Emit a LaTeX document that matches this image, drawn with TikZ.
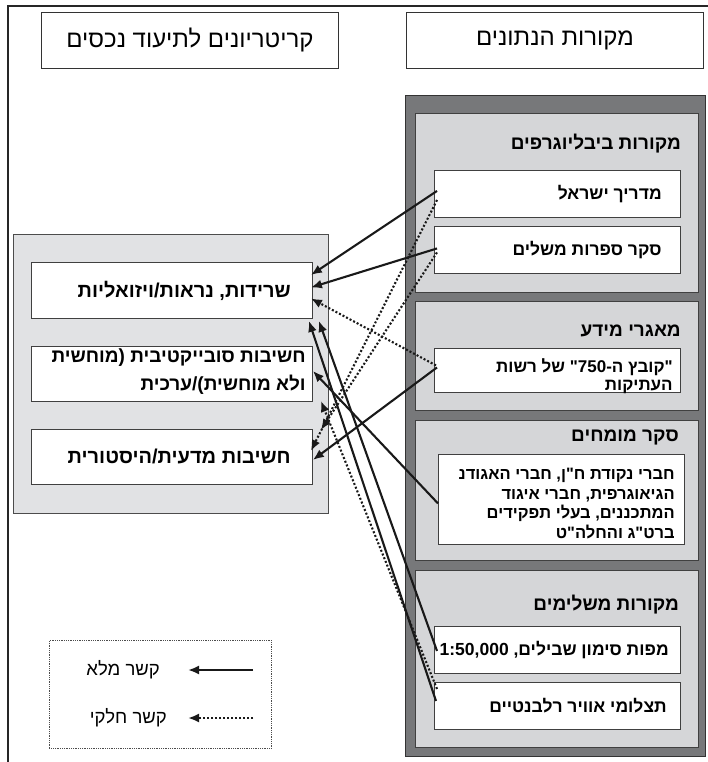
\documentclass[tikz,border=0pt]{standalone}
\usepackage{fontspec}
\setmainfont[Script=Hebrew,Ligatures=TeXOff]{Liberation Sans}
\TeXXeTstate=1
\usetikzlibrary{arrows.meta,positioning,calc}
\newcommand{\heb}[1]{\beginR #1\endR}
\definecolor{framegray}{HTML}{77787A}
\definecolor{secgray}{HTML}{D5D6D8}
\definecolor{critgray}{HTML}{E1E2E4}

\begin{document}
\begin{tikzpicture}[x=1pt,y=-1pt,
  hdr/.style={draw=black!80,line width=0.9pt,minimum width=297pt,minimum height=56pt,anchor=north west,font=\fontsize{24}{28}\selectfont},
  sec/.style={draw=black!75,fill=secgray,line width=1.2pt,minimum width=283pt,anchor=north west},
  src/.style={draw=black!75,fill=white,line width=0.9pt,minimum width=246pt,minimum height=47pt,anchor=north west},
  crit/.style={draw=black!75,fill=white,line width=0.9pt,minimum width=281pt,minimum height=56pt,anchor=north west},
  ttl/.style={anchor=east,inner sep=0pt,font=\bfseries\fontsize{19}{22}\selectfont},
  srctxt/.style={anchor=east,inner sep=0pt,align=right,font=\bfseries\fontsize{17.5}{19}\selectfont},
  crittxt/.style={anchor=east,inner sep=0pt,align=right,font=\bfseries\fontsize{20}{28}\selectfont},
  lgdtxt/.style={anchor=east,inner sep=0pt,font=\fontsize{18.5}{21}\selectfont},
  full/.style={line width=2.1pt,black!90,-{Latex[length=11pt,width=9pt]}},
  part/.style={full,dash pattern=on 2pt off 2pt}]
\useasboundingbox (0,0) rectangle (708,762);

% frame and headers
\draw[line width=1.2pt,black!85] (8,762) -- (8,6) -- (708,6);
\node[hdr] (crithdr) at (41,12) {\heb{קריטריונים לתיעוד נכסים}};
\node[hdr] (srchdr) at (406,12) {\heb{מקורות הנתונים}};

% data sources
\node[draw=black!80,fill=framegray,line width=1.2pt,minimum width=300pt,minimum height=661pt,anchor=north west] (srcframe) at (405,95) {};
\node[sec,minimum height=179pt] (bib) at (415,113) {};
\node[sec,minimum height=109pt] (db) at (415,301) {};
\node[sec,minimum height=140pt] (exp) at (415,420) {};
\node[sec,minimum height=177pt] (supp) at (415,570) {};

\node[ttl] (bibttl) at (681,144) {\heb{מקורות ביבליוגרפים}};
\node[ttl] (dbttl) at (681,331) {\heb{מאגרי מידע}};
\node[ttl] (expttl) at (679,437) {\heb{סקר מומחים}};
\node[ttl] (suppttl) at (679,605) {\heb{מקורות משלימים}};

\node[src] (madrich) at (434,170) {};
\node[src] (seker) at (434,226) {};
\node[src,minimum height=44pt] (kovetz) at (434,348) {};
\node[src,minimum height=90pt] (experts) at (438,454) {};
\node[src] (mapot) at (434,626) {};
\node[src] (aerial) at (434,682) {};

\node[srctxt] (madrichtxt) at ([xshift=-19pt]madrich.east) {\heb{מדריך ישראל}};
\node[srctxt] (sekertxt) at ([xshift=-19pt]seker.east) {\heb{סקר ספרות משלים}};
\node[srctxt,font=\bfseries\fontsize{17}{18}\selectfont] (kovetztxt) at ([xshift=-8pt,yshift=-6pt]kovetz.east)
  {\heb{"קובץ ה-\beginL750\endL" של רשות}\\\heb{העתיקות}};
\node[srctxt,font=\bfseries\fontsize{16.5}{19.5}\selectfont] (expertstxt) at ([xshift=-10pt,yshift=-4pt]experts.east)
  {\heb{חברי נקודת ח"ן, חברי האגודנ}\\\heb{הגיאוגרפית, חברי איגוד}\\\heb{המתכננים, בעלי תפקידים}\\\heb{ברט"ג והחלה"ט}};
\node[srctxt] (mapottxt) at ([xshift=-12pt]mapot.east) {\heb{מפות סימון שבילים, \beginL1:50,000\endL}};
\node[srctxt] (aerialtxt) at ([xshift=-14pt]aerial.east) {\heb{תצלומי אוויר רלבנטיים}};

% criteria
\node[draw=black!70,fill=critgray,line width=0.9pt,minimum width=315pt,minimum height=279pt,anchor=north west] (critframe) at (13,234) {};
\node[crit] (sridut) at (31,262) {};
\node[crit,minimum height=55pt] (subj) at (31,346) {};
\node[crit,minimum height=55pt] (madait) at (31,429) {};

\node[crittxt] (sriduttxt) at ([xshift=-22pt]sridut.east) {\heb{שרידות, נראות/ויזואליות}};
\node[crittxt,font=\bfseries\fontsize{19}{28}\selectfont] (subjtxt) at ([xshift=-7pt,yshift=2pt]subj.east) {\heb{חשיבות סובייקטיבית (מוחשית}\\\heb{ולא מוחשית)/ערכית}};
\node[crittxt] (madaittxt) at ([xshift=-22pt]madait.east) {\heb{חשיבות מדעית/היסטורית}};

% legend
\node[draw=black!70,densely dotted,line width=0.8pt,minimum width=222pt,minimum height=108pt,anchor=north west] (legend) at (49,640) {};
\node[lgdtxt] (fulltxt) at (160,670) {\heb{קשר מלא}};
\node[lgdtxt] (parttxt) at (167,718) {\heb{קשר חלקי}};
\coordinate (fullfrom) at (253,670);
\coordinate (fullto) at (188,670);
\coordinate (partfrom) at (253,718);
\coordinate (partto) at (188,718);
\draw[full] (fullfrom) -- (fullto);
\draw[part] (partfrom) -- (partto);

% links
\draw[full] ([xshift=3pt,yshift=3pt]madrich.west) -- ([xshift=-2pt,yshift=-13pt]sridut.north east);
\draw[part] ([xshift=3pt,yshift=-6pt]madrich.west) -- ([xshift=-2pt,yshift=6pt]madait.east);
\draw[full] ([xshift=3pt,yshift=1.5pt]seker.west) -- ([xshift=-2pt,yshift=3pt]sridut.east);
\draw[part] ([xshift=3pt,yshift=-2.5pt]seker.west) -- ([xshift=8pt,yshift=-1pt]madait.north east);
\draw[part] ([xshift=2pt,yshift=5pt]kovetz.west) -- ([xshift=-2pt,yshift=-8pt]sridut.east);
\draw[full] ([xshift=3pt,yshift=3pt]kovetz.west) -- ([yshift=-3pt]madait.east);
\draw[full] ([yshift=-4pt]experts.west) -- ([yshift=3pt]subj.east);
\draw[full] ([xshift=3pt,yshift=-1pt]mapot.west) -- ([xshift=6pt,yshift=-2pt]sridut.south east);
\draw[full] ([xshift=2pt,yshift=5pt]aerial.west) -- ([xshift=-4pt,yshift=-2pt]sridut.south east);
\draw[part] ([xshift=3pt,yshift=17pt]aerial.west) -- ([xshift=8pt,yshift=1pt]subj.south east);
\end{tikzpicture}
\end{document}
